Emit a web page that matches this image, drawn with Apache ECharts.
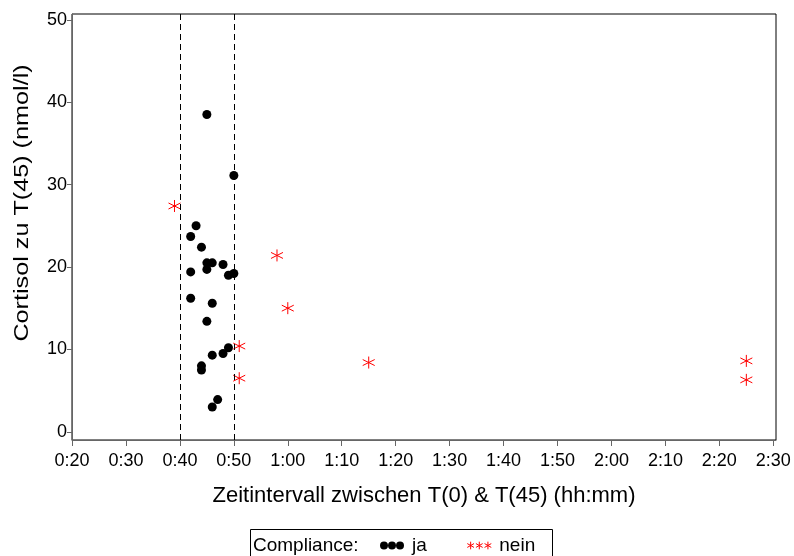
<!DOCTYPE html>
<html>
<head>
<meta charset="utf-8">
<script src="https://cdn.jsdelivr.net/npm/echarts@6/dist/echarts.min.js"></script>
<style>
  html, body { margin: 0; padding: 0; background: #fff; }
  #chart { width: 794px; height: 556px; }
</style>
</head>
<body>
<div id="chart"></div>
<script>
// minutes between T(0) and T(45), cortisol in nmol/l
var jaMinutes = [45, 50, 43, 42, 44, 45, 46, 45, 48, 42, 49, 50, 42, 46, 45, 49, 46, 48, 44, 44, 47, 46];
var jaCortisol = [38.5, 31.1, 25.0, 23.7, 22.4, 20.5, 20.5, 19.7, 20.3, 19.4, 19.0, 19.2, 16.2, 15.6, 13.4, 10.2, 9.3, 9.5, 8.0, 7.5, 3.9, 3.0];
var neinMinutes = [39, 58, 60, 51, 51, 75, 145, 145];
var neinCortisol = [27.4, 21.4, 15.0, 10.4, 6.5, 8.4, 8.6, 6.3];
var xTicks = [20, 30, 40, 50, 60, 70, 80, 90, 100, 110, 120, 130, 140, 150];
var yTicks = [0, 10, 20, 30, 40, 50];
var refLines = [40, 50];

function pairs(xs, ys) {
  return xs.map(function (x, i) { return [x, ys[i]]; });
}
function hhmm(v) {
  var h = Math.floor(v / 60), m = v % 60;
  return h + ':' + (m < 10 ? '0' : '') + m;
}

var star = 'path://M0,-10L0,10M-8.66,-5L8.66,5M-8.66,5L8.66,-5';
var dots3 = 'path://M0,4a4,4 0 1,0 8,0a4,4 0 1,0 -8,0M8,4a4,4 0 1,0 8,0a4,4 0 1,0 -8,0M16,4a4,4 0 1,0 8,0a4,4 0 1,0 -8,0';
var stars3 = 'path://M4,0L4,8M0.5,2L7.5,6M0.5,6L7.5,2M13,0L13,8M9.5,2L16.5,6M9.5,6L16.5,2M22,0L22,8M18.5,2L25.5,6M18.5,6L25.5,2';

var font = '"Liberation Sans", Arial, sans-serif';
var chart = echarts.init(document.getElementById('chart'));

chart.setOption({
  animation: false,
  backgroundColor: '#fff',
  textStyle: { fontFamily: font },
  grid: {
    left: 72, right: 18, top: 14, bottom: 116,
    show: true, borderColor: '#000', borderWidth: 1
  },
  xAxis: {
    type: 'value',
    min: 20, max: 150.5,
    name: 'Zeitintervall zwischen T(0) & T(45) (hh:mm)',
    nameLocation: 'middle', nameGap: 45,
    nameTextStyle: { fontSize: 22, color: '#000', fontFamily: font },
    axisLine: { show: true, onZero: false, lineStyle: { color: '#666', width: 1 } },
    axisTick: { show: true, customValues: xTicks, length: 6, lineStyle: { color: '#666' } },
    axisLabel: {
      customValues: xTicks, formatter: hhmm,
      fontSize: 18, color: '#000', margin: 12, fontFamily: font
    },
    splitLine: { show: false }
  },
  yAxis: {
    type: 'value',
    min: -1, max: 50.7,
    axisLine: { show: true, onZero: false, lineStyle: { color: '#666', width: 1 } },
    axisTick: { show: true, customValues: yTicks, length: 5, lineStyle: { color: '#666' } },
    axisLabel: {
      customValues: yTicks, fontSize: 18, color: '#000', margin: 5, fontFamily: font
    },
    splitLine: { show: false }
  },
  legend: {
    left: 380, top: 536,
    padding: 0,
    itemGap: 40,
    itemWidth: 24, itemHeight: 8,
    textStyle: { fontSize: 19, color: '#000', fontFamily: font, padding: [0, 0, 0, 3] },
    data: [
      { name: 'ja', icon: dots3 },
      { name: 'nein', icon: stars3, itemStyle: { color: 'transparent', borderColor: '#ff0000', borderWidth: 1 } }
    ]
  },
  graphic: [
    {
      type: 'text', x: 22, y: 203, rotation: Math.PI / 2, scaleX: 1.2,
      style: {
        text: 'Cortisol zu T(45) (nmol/l)', fontSize: 21, fill: '#000', fontFamily: font,
        align: 'center', verticalAlign: 'middle'
      }
    },
    {
      type: 'rect', left: 248, top: 527,
      shape: { width: 302, height: 40 },
      style: { fill: 'none', stroke: '#000', lineWidth: 1 }
    },
    {
      type: 'text', left: 253, top: 536,
      style: { text: 'Compliance:', fontSize: 19, fill: '#000', fontFamily: font }
    }
  ],
  series: [
    {
      name: 'ja',
      type: 'scatter',
      symbol: 'circle',
      symbolSize: 9,
      itemStyle: { color: '#000', opacity: 1 },
      data: pairs(jaMinutes, jaCortisol),
      markLine: {
        silent: true,
        symbol: 'none',
        label: { show: false },
        lineStyle: { color: '#000', type: [6, 4], width: 1 },
        data: refLines.map(function (v) { return { xAxis: v }; })
      }
    },
    {
      name: 'nein',
      type: 'scatter',
      symbol: star,
      symbolSize: 12,
      itemStyle: { color: 'transparent', borderColor: '#ff0000', borderWidth: 1, opacity: 1 },
      data: pairs(neinMinutes, neinCortisol)
    }
  ]
});
</script>
</body>
</html>
